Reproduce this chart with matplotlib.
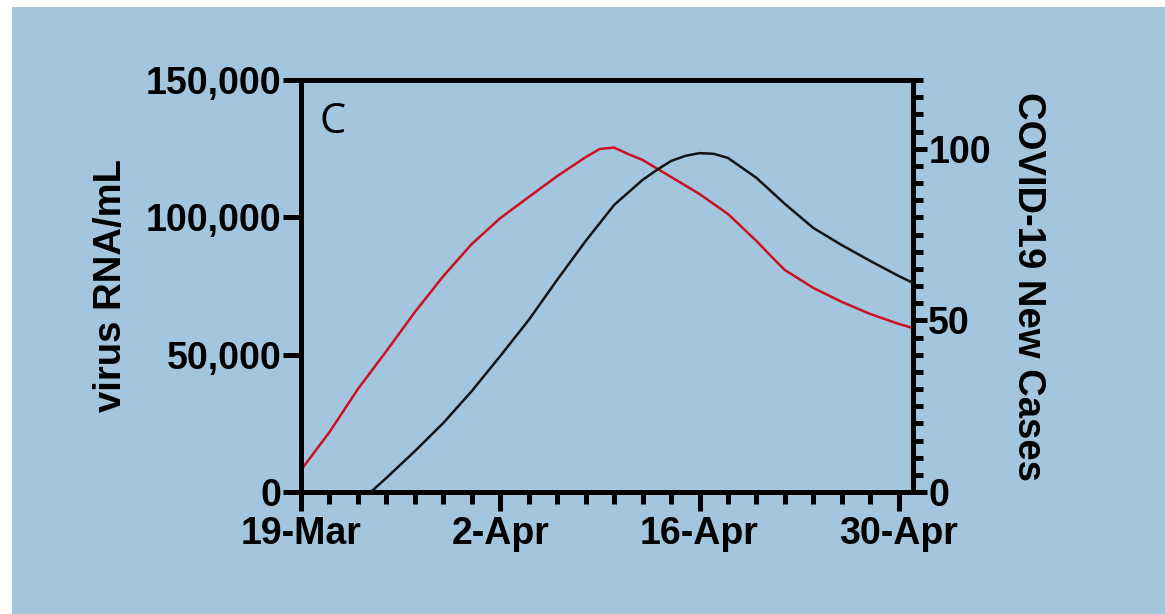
import numpy as np
import matplotlib
matplotlib.use('Agg')
import matplotlib.pyplot as plt
from matplotlib.patches import Rectangle
from matplotlib.ticker import MultipleLocator, FuncFormatter

# data (day 0 = 19-Mar)
red_days = [0, 2, 4, 6, 8, 10, 12, 14, 16, 18, 20, 21, 22, 23, 24, 26, 28, 30, 32, 33, 34, 36, 38, 40, 42, 43]
red_rna = [8000, 21800, 37500, 51300, 65500, 78600, 90300, 99700, 107400, 115000, 121900, 124900,
           125400, 123000, 120900, 114700, 108500, 101200, 91400, 86000, 80800, 74300, 69200,
           64800, 61200, 59700]

black_days = [4.9, 6, 8, 10, 12, 14, 16, 18, 20, 22, 24, 25, 26, 27, 28, 29, 30, 32, 34, 36, 38, 40, 42, 43]
black_cases = [0, 4.1, 11.9, 20.1, 29.4, 39.6, 50.1, 61.8, 73.1, 83.6, 90.9, 93.8, 96.4, 97.9,
               98.7, 98.5, 97.3, 91.5, 83.9, 76.9, 71.9, 67.3, 62.9, 60.9]

tick_days = [0, 14, 28, 42]
tick_labels = ['19-Mar', '2-Apr', '16-Apr', '30-Apr']

bg = '#a3c6de'
font = 'Liberation Sans'
fs = 27

fig = plt.figure(figsize=(11.65, 6.14), dpi=100, facecolor='white')
fig.patches.append(Rectangle((12 / 1165, 0), 1, 607 / 614, transform=fig.transFigure,
                             facecolor=bg, edgecolor='none', zorder=-10))

ax = fig.add_axes([301 / 1165, 122 / 614, 612 / 1165, 412 / 614])
ax.set_facecolor('none')
ax2 = ax.twinx()

ax.plot(red_days, red_rna, color='#cc1020', lw=1.8, zorder=5)
ax2.plot(black_days, black_cases, color='#141414', lw=1.8, zorder=5)

ax.set_xlim(0, 43)
ax.set_ylim(0, 150000)
ax2.set_ylim(0, 120)

for a in (ax, ax2):
    for s in a.spines.values():
        s.set_linewidth(3.6)
        s.set_color('black')

ax.set_xticks(tick_days)
ax.set_xticklabels(tick_labels)
ax.xaxis.set_minor_locator(MultipleLocator(2))
ax.set_yticks([0, 50000, 100000, 150000])
ax.yaxis.set_major_formatter(FuncFormatter(lambda v, p: f'{int(v):,}'))
ax2.set_yticks([0, 50, 100])
ax2.yaxis.set_minor_locator(MultipleLocator(5))

ax.tick_params(axis='x', which='major', length=14, width=3.6, pad=3, labelsize=fs)
ax.tick_params(axis='x', which='minor', length=8.5, width=3.6)
ax.tick_params(axis='y', which='major', length=13, width=3.6, pad=1, labelsize=fs)
ax2.tick_params(axis='y', which='major', length=10, width=3.6, pad=1, labelsize=fs)
ax2.tick_params(axis='y', which='minor', length=7, width=3.6)

for lab in ax.get_xticklabels() + ax.get_yticklabels() + ax2.get_yticklabels():
    lab.set_fontfamily(font)
    lab.set_fontweight('bold')

ax.set_ylabel('virus RNA/mL', fontsize=27.5, fontweight='bold', family=font, labelpad=12)
ax2.set_ylabel('COVID-19 New Cases', fontsize=27.5, fontweight='bold', family=font,
               rotation=270, va='bottom', labelpad=14)

ax.text(0.03, 0.95, 'C', transform=ax.transAxes, fontsize=30, family='Open Sans',
        ha='left', va='top')

fig.savefig('out.png', dpi=100, facecolor='white')
